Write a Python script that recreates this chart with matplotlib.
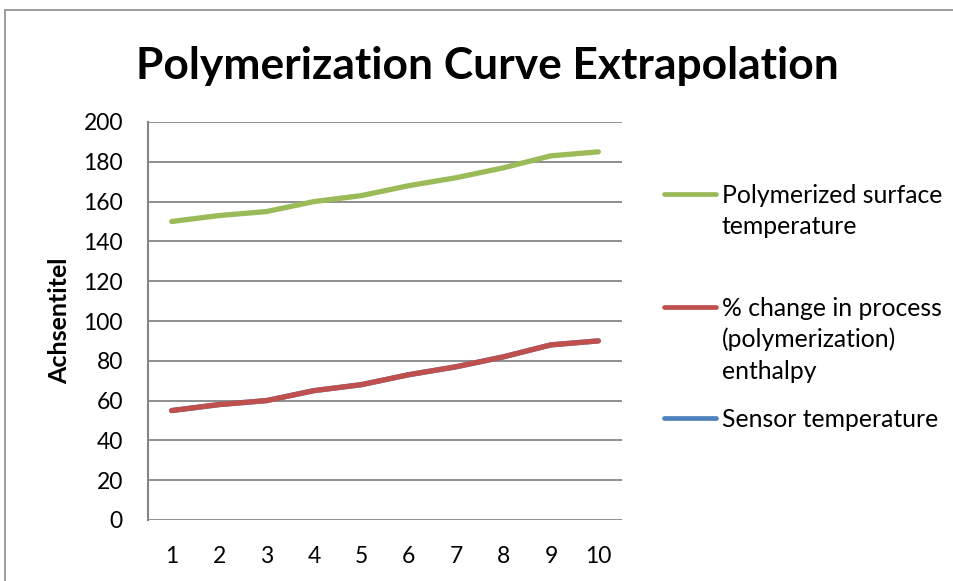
import matplotlib
matplotlib.use("Agg")
import matplotlib.pyplot as plt
from matplotlib.lines import Line2D
from matplotlib.patches import Rectangle

# ---- data ----
categories = [1, 2, 3, 4, 5, 6, 7, 8, 9, 10]
sensor_temperature = [55, 58, 60, 65, 68, 73, 77, 82, 88, 90]
pct_change_enthalpy = [55, 58, 60, 65, 68, 73, 77, 82, 88, 90]
polymerized_surface = [150, 153, 155, 160, 163, 168, 172, 177, 183, 185]
series_labels = [["Polymerized surface", "temperature"],
                 ["% change in process", "(polymerization)", "enthalpy"],
                 ["Sensor temperature"]]
y_ticks = [0, 20, 40, 60, 80, 100, 120, 140, 160, 180, 200]
title = "Polymerization Curve Extrapolation"
y_label = "Achsentitel"

GREEN = "#9BBB59"
RED = "#C0504D"
BLUE = "#4F81BD"
GRID = "#868686"
FONT = "Lato"

W, H = 954, 581
fig = plt.figure(figsize=(W / 100, H / 100), dpi=100)
plt.rcParams['font.family'] = [FONT, 'DejaVu Sans']

def fx(px):
    return px / W

def fy(py):
    return 1 - py / H

# outer chart frame
fig.patches.append(Rectangle((fx(5), fy(700)), fx(1200), fy(10) - fy(700),
                             transform=fig.transFigure, fill=False,
                             edgecolor="#8c8c8c", linewidth=1.2))

ax = fig.add_axes([fx(148), fy(520), fx(622) - fx(148), fy(122) - fy(520)])
lw = 3.8
ax.plot(categories, sensor_temperature, color=BLUE, lw=lw, solid_capstyle='round', zorder=3)
ax.plot(categories, pct_change_enthalpy, color=RED, lw=lw, solid_capstyle='round', zorder=4)
ax.plot(categories, polymerized_surface, color=GREEN, lw=lw, solid_capstyle='round', zorder=5)

ax.set_xlim(0.5, 10.5)
ax.set_ylim(0, 200)
ax.set_yticks(y_ticks)
ax.set_xticks(categories)
ax.set_xticklabels([str(c) for c in categories])
ax.yaxis.grid(True, color=GRID, linewidth=1.3)
ax.set_axisbelow(True)
for s in ["top", "right", "bottom"]:
    ax.spines[s].set_visible(False)
ax.spines["left"].set_color(GRID)
ax.spines["left"].set_linewidth(1.5)
ax.tick_params(axis='both', length=0, labelsize=16.5, colors="black")
ax.tick_params(axis='y', pad=18)
ax.tick_params(axis='x', pad=19)
ax.set_ylabel(y_label, fontsize=18, fontweight='bold', labelpad=9)

# title fitted to reference width
t = fig.text(fx(487), fy(79), title, ha='center', va='baseline',
             fontsize=34, fontweight='bold')
fig.canvas.draw()
bb = t.get_window_extent()
t.set_fontsize(34 * 703 / bb.width)

# legend (handles aligned with first line of each label)
legend_colors = [GREEN, RED, BLUE]
handle_y = [194, 307, 418]
first_baseline = [203, 316, 427]
line_step = 31.3
for lines, col, hy, by in zip(series_labels, legend_colors, handle_y, first_baseline):
    fig.lines.append(Line2D([fx(664), fx(716)], [fy(hy), fy(hy)],
                            transform=fig.transFigure, color=col, lw=3.4,
                            solid_capstyle='round'))
    for i, ln in enumerate(lines):
        fig.text(fx(722), fy(by + i * line_step), ln, ha='left', va='baseline',
                 fontsize=17.8)

fig.savefig("out.png", dpi=100)
